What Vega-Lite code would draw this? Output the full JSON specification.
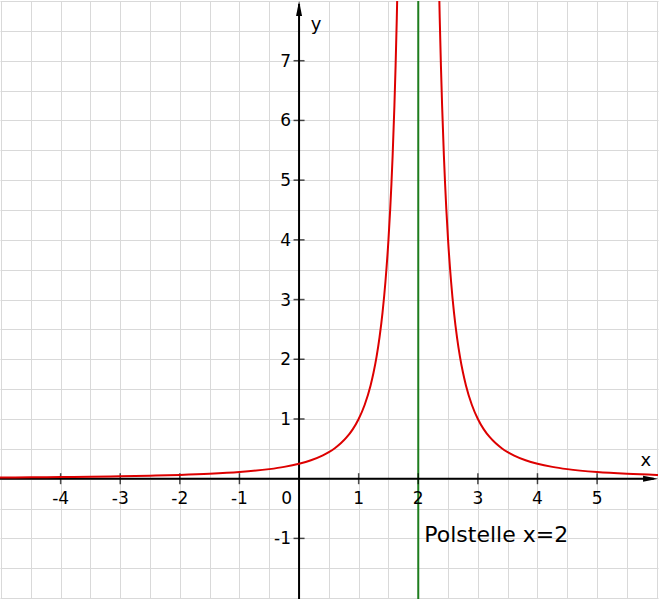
{
  "$schema": "https://vega.github.io/schema/vega-lite/v6.json",
  "width": 659,
  "height": 599,
  "padding": 0,
  "autosize": {"type": "fit", "contains": "padding"},
  "background": "white",
  "config": {"view": {"stroke": null}},
  "datasets": {
    "curve": [
      {"branch": "L", "x": -5.05, "y": 0.02012},
      {"branch": "L", "x": -5.0, "y": 0.02041},
      {"branch": "L", "x": -4.5, "y": 0.02367},
      {"branch": "L", "x": -4.0, "y": 0.02778},
      {"branch": "L", "x": -3.5, "y": 0.03306},
      {"branch": "L", "x": -3.0, "y": 0.04},
      {"branch": "L", "x": -2.5, "y": 0.04938},
      {"branch": "L", "x": -2.0, "y": 0.0625},
      {"branch": "L", "x": -1.5, "y": 0.08163},
      {"branch": "L", "x": -1.0, "y": 0.11111},
      {"branch": "L", "x": -0.5, "y": 0.16},
      {"branch": "L", "x": -0.25, "y": 0.19753},
      {"branch": "L", "x": 0.0, "y": 0.25},
      {"branch": "L", "x": 0.2, "y": 0.30864},
      {"branch": "L", "x": 0.4, "y": 0.39063},
      {"branch": "L", "x": 0.5, "y": 0.44444},
      {"branch": "L", "x": 0.6, "y": 0.5102},
      {"branch": "L", "x": 0.7, "y": 0.59172},
      {"branch": "L", "x": 0.8, "y": 0.69444},
      {"branch": "L", "x": 0.9, "y": 0.82645},
      {"branch": "L", "x": 1.0, "y": 1.0},
      {"branch": "L", "x": 1.1, "y": 1.23457},
      {"branch": "L", "x": 1.2, "y": 1.5625},
      {"branch": "L", "x": 1.25, "y": 1.77778},
      {"branch": "L", "x": 1.3, "y": 2.04082},
      {"branch": "L", "x": 1.35, "y": 2.36686},
      {"branch": "L", "x": 1.4, "y": 2.77778},
      {"branch": "L", "x": 1.45, "y": 3.30579},
      {"branch": "L", "x": 1.5, "y": 4.0},
      {"branch": "L", "x": 1.53, "y": 4.52694},
      {"branch": "L", "x": 1.55, "y": 4.93827},
      {"branch": "L", "x": 1.57, "y": 5.40833},
      {"branch": "L", "x": 1.6, "y": 6.25},
      {"branch": "L", "x": 1.62, "y": 6.92521},
      {"branch": "L", "x": 1.64, "y": 7.71605},
      {"branch": "L", "x": 1.66, "y": 8.65052},
      {"branch": "R", "x": 2.34, "y": 8.65052},
      {"branch": "R", "x": 2.36, "y": 7.71605},
      {"branch": "R", "x": 2.38, "y": 6.92521},
      {"branch": "R", "x": 2.4, "y": 6.25},
      {"branch": "R", "x": 2.43, "y": 5.40833},
      {"branch": "R", "x": 2.45, "y": 4.93827},
      {"branch": "R", "x": 2.47, "y": 4.52694},
      {"branch": "R", "x": 2.5, "y": 4.0},
      {"branch": "R", "x": 2.55, "y": 3.30579},
      {"branch": "R", "x": 2.6, "y": 2.77778},
      {"branch": "R", "x": 2.65, "y": 2.36686},
      {"branch": "R", "x": 2.7, "y": 2.04082},
      {"branch": "R", "x": 2.75, "y": 1.77778},
      {"branch": "R", "x": 2.8, "y": 1.5625},
      {"branch": "R", "x": 2.9, "y": 1.23457},
      {"branch": "R", "x": 3.0, "y": 1.0},
      {"branch": "R", "x": 3.1, "y": 0.82645},
      {"branch": "R", "x": 3.2, "y": 0.69444},
      {"branch": "R", "x": 3.3, "y": 0.59172},
      {"branch": "R", "x": 3.4, "y": 0.5102},
      {"branch": "R", "x": 3.5, "y": 0.44444},
      {"branch": "R", "x": 3.6, "y": 0.39063},
      {"branch": "R", "x": 3.8, "y": 0.30864},
      {"branch": "R", "x": 4.0, "y": 0.25},
      {"branch": "R", "x": 4.25, "y": 0.19753},
      {"branch": "R", "x": 4.5, "y": 0.16},
      {"branch": "R", "x": 5.0, "y": 0.11111},
      {"branch": "R", "x": 5.5, "y": 0.08163},
      {"branch": "R", "x": 6.0, "y": 0.0625},
      {"branch": "R", "x": 6.05, "y": 0.06097}
    ],
    "xticks": [{"v": -4, "t": "-4"}, {"v": -3, "t": "-3"}, {"v": -2, "t": "-2"}, {"v": -1, "t": "-1"}, {"v": 1, "t": "1"}, {"v": 2, "t": "2"}, {"v": 3, "t": "3"}, {"v": 4, "t": "4"}, {"v": 5, "t": "5"}],
    "yticks": [{"v": -1, "t": "-1"}, {"v": 1, "t": "1"}, {"v": 2, "t": "2"}, {"v": 3, "t": "3"}, {"v": 4, "t": "4"}, {"v": 5, "t": "5"}, {"v": 6, "t": "6"}, {"v": 7, "t": "7"}],
    "xaxis": [{"x": -5.1, "y": 0}, {"x": 5.95, "y": 0}],
    "yaxis": [{"x": 0, "y": -2.1}, {"x": 0, "y": 7.95}],
    "pole": [{"x": 2, "y": -2.1}, {"x": 2, "y": 8.1}],
    "xarrow": [{"x": 5.897, "y": 0}],
    "yarrow": [{"x": 0, "y": 7.875}],
    "origin": [{"x": 0, "y": 0, "t": "0"}],
    "xtitle": [{"x": 5.8, "y": 0.207, "t": "x"}],
    "ytitle": [{"x": 0.285, "y": 7.515, "t": "y"}],
    "note": [{"x": 2, "y": -1, "t": "Polstelle x=2"}]
  },
  "encoding": {
    "x": {"type": "quantitative", "scale": {"domain": [-5.017, 6.022], "nice": false, "zero": false},
      "axis": {"grid": true, "gridColor": "#d9d9d9", "gridWidth": 1, "domain": false, "labels": false, "ticks": false, "title": null,
        "values": [-5, -4.5, -4, -3.5, -3, -2.5, -2, -1.5, -1, -0.5, 0, 0.5, 1, 1.5, 2, 2.5, 3, 3.5, 4, 4.5, 5, 5.5, 6]}},
    "y": {"type": "quantitative", "scale": {"domain": [-2.015, 8.0], "nice": false, "zero": false},
      "axis": {"grid": true, "gridColor": "#d9d9d9", "gridWidth": 1, "domain": false, "labels": false, "ticks": false, "title": null,
        "values": [-2, -1.5, -1, -0.5, 0, 0.5, 1, 1.5, 2, 2.5, 3, 3.5, 4, 4.5, 5, 5.5, 6, 6.5, 7, 7.5, 8]}}
  },
  "layer": [
    {"data": {"name": "pole"}, "mark": {"type": "line", "color": "#1e7d1e", "strokeWidth": 2, "clip": true},
      "encoding": {"x": {"field": "x", "type": "quantitative"}, "y": {"field": "y", "type": "quantitative"}}},
    {"data": {"name": "xaxis"}, "mark": {"type": "line", "color": "black", "strokeWidth": 2, "clip": true},
      "encoding": {"x": {"field": "x", "type": "quantitative"}, "y": {"field": "y", "type": "quantitative"}}},
    {"data": {"name": "yaxis"}, "mark": {"type": "line", "color": "black", "strokeWidth": 2, "clip": true},
      "encoding": {"x": {"field": "x", "type": "quantitative"}, "y": {"field": "y", "type": "quantitative"}}},
    {"data": {"name": "xticks"}, "mark": {"type": "tick", "orient": "vertical", "color": "black", "size": 11, "thickness": 1.5},
      "encoding": {"x": {"field": "v", "type": "quantitative"}, "y": {"datum": 0, "type": "quantitative"}}},
    {"data": {"name": "yticks"}, "mark": {"type": "tick", "orient": "horizontal", "color": "black", "size": 11, "thickness": 1.5},
      "encoding": {"y": {"field": "v", "type": "quantitative"}, "x": {"datum": 0, "type": "quantitative"}}},
    {"data": {"name": "curve"}, "mark": {"type": "line", "color": "#dd0000", "strokeWidth": 2, "clip": true, "interpolate": "monotone"},
      "encoding": {"x": {"field": "x", "type": "quantitative"}, "y": {"field": "y", "type": "quantitative"}, "detail": {"field": "branch"}}},
    {"data": {"name": "xarrow"}, "mark": {"type": "point", "shape": "M1,0L-1,-0.4L-1,0.4Z", "size": 225, "filled": true, "color": "black", "opacity": 1},
      "encoding": {"x": {"field": "x", "type": "quantitative"}, "y": {"field": "y", "type": "quantitative"}}},
    {"data": {"name": "yarrow"}, "mark": {"type": "point", "shape": "M0,-1L0.4,1L-0.4,1Z", "size": 225, "filled": true, "color": "black", "opacity": 1},
      "encoding": {"x": {"field": "x", "type": "quantitative"}, "y": {"field": "y", "type": "quantitative"}}},
    {"data": {"name": "xticks"}, "mark": {"type": "text", "font": "DejaVu Sans", "fontSize": 17, "align": "center", "baseline": "alphabetic", "dy": 25, "color": "black"},
      "encoding": {"x": {"field": "v", "type": "quantitative"}, "y": {"datum": 0, "type": "quantitative"}, "text": {"field": "t"}}},
    {"data": {"name": "yticks"}, "mark": {"type": "text", "font": "DejaVu Sans", "fontSize": 17, "align": "right", "baseline": "middle", "dx": -8, "dy": 1, "color": "black"},
      "encoding": {"y": {"field": "v", "type": "quantitative"}, "x": {"datum": 0, "type": "quantitative"}, "text": {"field": "t"}}},
    {"data": {"name": "origin"}, "mark": {"type": "text", "font": "DejaVu Sans", "fontSize": 17, "align": "right", "baseline": "alphabetic", "dx": -7, "dy": 25, "color": "black"},
      "encoding": {"x": {"field": "x", "type": "quantitative"}, "y": {"field": "y", "type": "quantitative"}, "text": {"field": "t"}}},
    {"data": {"name": "xtitle"}, "mark": {"type": "text", "font": "DejaVu Sans", "fontSize": 18, "align": "center", "baseline": "alphabetic", "dx": 1, "dy": 0, "color": "black"},
      "encoding": {"x": {"field": "x", "type": "quantitative"}, "y": {"field": "y", "type": "quantitative"}, "text": {"field": "t"}}},
    {"data": {"name": "ytitle"}, "mark": {"type": "text", "font": "DejaVu Sans", "fontSize": 18, "align": "center", "baseline": "alphabetic", "dx": 0, "dy": 0, "color": "black"},
      "encoding": {"x": {"field": "x", "type": "quantitative"}, "y": {"field": "y", "type": "quantitative"}, "text": {"field": "t"}}},
    {"data": {"name": "note"}, "mark": {"type": "text", "font": "DejaVu Sans", "fontSize": 22, "align": "left", "baseline": "alphabetic", "dx": 6, "dy": 4, "color": "black"},
      "encoding": {"x": {"field": "x", "type": "quantitative"}, "y": {"field": "y", "type": "quantitative"}, "text": {"field": "t"}}}
  ]
}
